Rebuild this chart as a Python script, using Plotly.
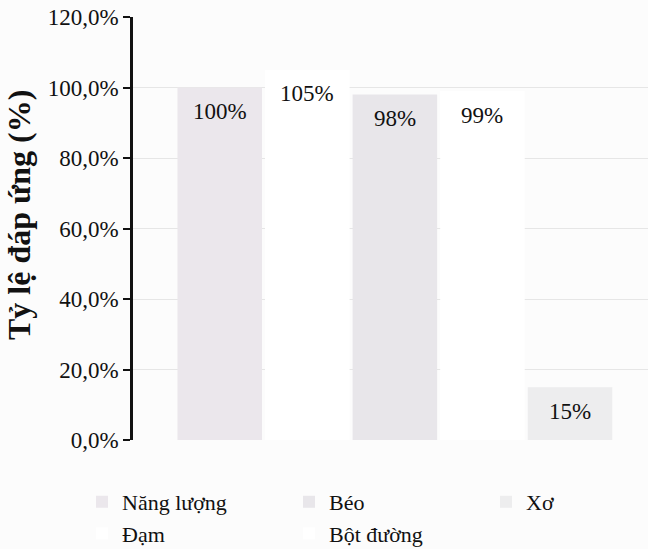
import plotly.graph_objects as go

series = ["Năng lượng", "Đạm", "Béo", "Bột đường", "Xơ"]
values = [100, 105, 98, 99, 15]
labels = ["100%", "105%", "98%", "99%", "15%"]
colors = ["#ebe7ec", "#ffffff", "#e8e6ea", "#ffffff", "#ededee"]
legend_group = ["legend", "legend", "legend2", "legend2", "legend3"]
y_ticks = [0, 20, 40, 60, 80, 100, 120]
y_ticktext = ["0,0%", "20,0%", "40,0%", "60,0%", "80,0%", "100,0%", "120,0%"]
y_title = "Tỷ lệ đáp ứng (%)"

FONT = "Liberation Serif"
L, T, PW, PH = 133, 17, 515, 423  # plot area in pixels


def px_x(p):
    return (p - L) / PW


def px_y(p):
    return (T + PH - p) / PH


fig = go.Figure()
for name, v, c, lg in zip(series, values, colors, legend_group):
    fig.add_trace(go.Bar(x=[name], y=[v], name=name, marker=dict(color=c, line=dict(width=0)),
                         legend=lg, showlegend=True))

for name, v, t in zip(series, values, labels):
    fig.add_annotation(x=name, y=v, text=t, showarrow=False, yshift=-24,
                       font=dict(family=FONT, size=23, color="#111"))

fig.add_annotation(xref="paper", yref="paper", x=px_x(19), y=px_y(215),
                   xanchor="center", yanchor="middle",
                   text=y_title, textangle=-90, showarrow=False,
                   font=dict(family=FONT, size=32, color="#111", weight="bold"))

leg_common = dict(orientation="v", yref="paper", xref="paper", yanchor="top",
                  xanchor="left", y=px_y(481), traceorder="normal",
                  font=dict(family=FONT, size=22, color="#111"),
                  bgcolor="rgba(0,0,0,0)", tracegroupgap=0)

fig.update_layout(
    width=648, height=549,
    margin=dict(l=L, r=648 - L - PW, t=T, b=549 - T - PH, autoexpand=False),
    paper_bgcolor="#fcfcfc", plot_bgcolor="#fcfcfc",
    barmode="overlay", bargap=0.035,
    font=dict(family=FONT, size=21, color="#111"),
    xaxis=dict(type="category", categoryorder="array", categoryarray=series,
               range=[-0.99, 4.89], showticklabels=False, showgrid=False,
               showline=False, ticks="", zeroline=False),
    yaxis=dict(range=[0, 120], tickvals=y_ticks, ticktext=y_ticktext,
               showline=True, linecolor="#111", linewidth=2.5,
               ticks="outside", ticklen=7, tickwidth=2, tickcolor="#111",
               showgrid=True, gridcolor="#e6e6e6", gridwidth=1, zeroline=False,
               tickfont=dict(family=FONT, size=23, color="#111")),
    legend=dict(leg_common, x=px_x(82)),
    legend2=dict(leg_common, x=px_x(289)),
    legend3=dict(leg_common, x=px_x(486)),
    showlegend=True,
)

fig.write_html("out.html")
